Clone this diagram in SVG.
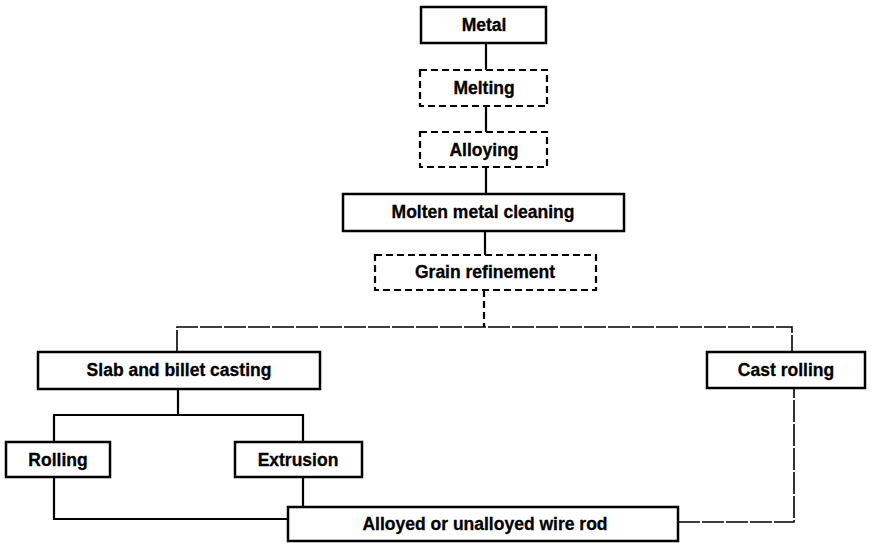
<svg xmlns="http://www.w3.org/2000/svg" width="872" height="543" viewBox="0 0 872 543">
<style>
.box{fill:#fff;stroke:#000;stroke-width:2.5}
.dbox{fill:#fff;stroke:#000;stroke-width:2.2;stroke-dasharray:7 4}
.ln{fill:none;stroke:#000;stroke-width:2.2}
.dl{fill:none;stroke:#000;stroke-width:2.2;stroke-dasharray:7 4}
.tl{fill:none;stroke:#000;stroke-width:1.6;stroke-dasharray:22 2}
text{font-family:"Liberation Sans",Arial,sans-serif;font-weight:bold;font-size:17.5px;text-anchor:middle;dominant-baseline:central;fill:#000;stroke:#000;stroke-width:0.3}
</style>
<rect width="872" height="543" fill="#fff"/>
<g id="connectors">
<line class="ln" x1="486" y1="43" x2="486" y2="70"/>
<line class="ln" x1="486" y1="106" x2="486" y2="132"/>
<line class="ln" x1="486" y1="167" x2="486" y2="194"/>
<line class="ln" x1="485" y1="231" x2="485" y2="255"/>
<line class="dl" x1="484" y1="290" x2="484" y2="327"/>
<polyline class="tl" points="177,352 177,327 792,327 792,352"/>
<line class="ln" x1="178" y1="389" x2="178" y2="415"/>
<polyline class="ln" points="54,442 54,415 303,415 303,442"/>
<polyline class="ln" points="54,477 54,519 288,519"/>
<line class="ln" x1="303" y1="477" x2="303" y2="507"/>
<polyline class="tl" points="678,522 794,522 794,388"/>
</g>
<g id="metal"><rect class="box" x="421" y="7" width="125" height="36"/><text x="484" y="25">Metal</text></g>
<g id="melting"><rect class="dbox" x="420" y="70" width="127" height="36"/><text x="484" y="88">Melting</text></g>
<g id="alloying"><rect class="dbox" x="420" y="132" width="127" height="35"/><text x="484" y="150">Alloying</text></g>
<g id="cleaning"><rect class="box" x="343" y="194" width="281" height="37"/><text x="483" y="212">Molten metal cleaning</text></g>
<g id="grain"><rect class="dbox" x="375" y="255" width="221" height="35"/><text x="485" y="272">Grain refinement</text></g>
<g id="slab"><rect class="box" x="38" y="352" width="282" height="37"/><text x="179" y="370">Slab and billet casting</text></g>
<g id="cast"><rect class="box" x="707" y="352" width="158" height="36"/><text x="786" y="370">Cast rolling</text></g>
<g id="rolling"><rect class="box" x="6" y="442" width="104" height="35"/><text x="58" y="460">Rolling</text></g>
<g id="extrusion"><rect class="box" x="235" y="442" width="127" height="35"/><text x="298" y="460">Extrusion</text></g>
<g id="wirerod"><rect class="box" x="288" y="507" width="390" height="34"/><text x="485" y="524">Alloyed or unalloyed wire rod</text></g>
</svg>
